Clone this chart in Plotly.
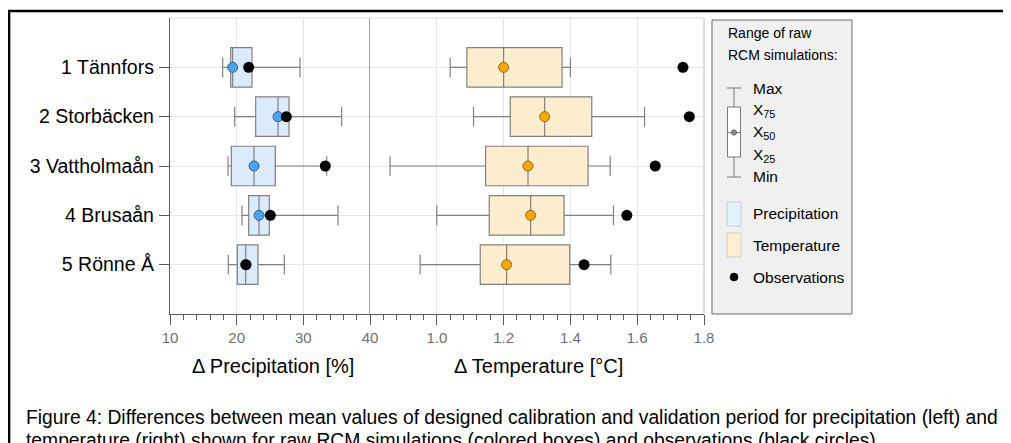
import plotly.graph_objects as go

# ---------------- data ----------------
stations = ["1 Tännfors", "2 Storbäcken", "3 Vattholmaån", "4 Brusaån", "5 Rönne Å"]
positions = [1, 2, 3, 4, 5]

prec_min = [17.9, 19.7, 18.7, 20.8, 18.75]
prec_q1 = [19.1, 22.85, 19.2, 21.8, 20.1]
prec_med = [19.4, 26.2, 22.6, 23.35, 21.35]
prec_q3 = [22.3, 27.85, 25.8, 24.9, 23.2]
prec_max = [29.5, 35.75, 33.5, 35.2, 27.15]
prec_obs = [21.8, 27.45, 33.3, 25.05, 21.4]

temp_min = [1.04, 1.11, 0.86, 1.00, 0.95]
temp_q1 = [1.09, 1.22, 1.146, 1.157, 1.13]
temp_med = [1.20, 1.323, 1.273, 1.281, 1.209]
temp_q3 = [1.375, 1.464, 1.453, 1.381, 1.398]
temp_max = [1.40, 1.622, 1.519, 1.529, 1.521]
temp_obs = [1.737, 1.756, 1.654, 1.569, 1.441]

prec_ticks = [10, 20, 30, 40]
temp_ticks = [1.0, 1.2, 1.4, 1.6, 1.8]

caption1 = ("Figure 4: Differences between mean values of designed calibration and "
            "validation period for precipitation (left) and")
caption2 = ("temperature (right) shown for raw RCM simulations (colored boxes) and "
            "observations (black circles).")

FONT = "Liberation Sans, Arial, sans-serif"
W, H = 1011, 443
OFF = 8                      # page body margin offset
L, R, T, B = 162, 696, 10, 306   # plot area in figure pixels


def px(x):   # x given in screenshot pixels
    return (x - OFF - L) / (R - L)


def py(y):   # y given in screenshot pixels
    return (B - (y - OFF)) / (B - T)


split = px(370)

fig = go.Figure()

# ---------------- boxes ----------------
fig.add_trace(go.Box(
    y=positions, q1=prec_q1, median=prec_med, q3=prec_q3,
    lowerfence=prec_min, upperfence=prec_max, orientation="h",
    fillcolor="#dcebfb", line=dict(color="#808080", width=1.2),
    whiskerwidth=0.5, width=0.8, boxpoints=False, hoverinfo="skip",
    xaxis="x", yaxis="y", showlegend=False))

fig.add_trace(go.Box(
    y=positions, q1=temp_q1, median=temp_med, q3=temp_q3,
    lowerfence=temp_min, upperfence=temp_max, orientation="h",
    fillcolor="#fdedcf", line=dict(color="#808080", width=1.2),
    whiskerwidth=0.5, width=0.8, boxpoints=False, hoverinfo="skip",
    xaxis="x2", yaxis="y", showlegend=False))

# median dots
fig.add_trace(go.Scatter(
    x=prec_med, y=positions, mode="markers", xaxis="x", yaxis="y",
    marker=dict(size=10, color="#4aa3f2", line=dict(color="#3c5f80", width=1)),
    showlegend=False, hoverinfo="skip"))
fig.add_trace(go.Scatter(
    x=temp_med, y=positions, mode="markers", xaxis="x2", yaxis="y",
    marker=dict(size=10, color="#ffa500", line=dict(color="#8a6a20", width=1)),
    showlegend=False, hoverinfo="skip"))

# observations
fig.add_trace(go.Scatter(
    x=prec_obs, y=positions, mode="markers", xaxis="x", yaxis="y",
    marker=dict(size=11, color="black"), showlegend=False, hoverinfo="skip"))
fig.add_trace(go.Scatter(
    x=temp_obs, y=positions, mode="markers", xaxis="x2", yaxis="y",
    marker=dict(size=11, color="black"), showlegend=False, hoverinfo="skip"))

axis_common = dict(
    showline=True, linecolor="#5a5a5a", linewidth=1.3,
    ticks="outside", ticklen=10, tickcolor="#5a5a5a", tickwidth=1.3,
    showgrid=True, gridcolor="#e6e6e6", gridwidth=1,
    zeroline=False, automargin=False,
    tickfont=dict(family=FONT, size=15, color="#707070"),
)

fig.update_layout(
    width=W, height=H,
    margin=dict(l=L, r=W - R, t=T, b=H - B, pad=0),
    paper_bgcolor="white", plot_bgcolor="white",
    font=dict(family=FONT, color="black"),
    xaxis=dict(domain=[0, split], range=[10, 40], tickmode="array",
               tickvals=prec_ticks, anchor="y",
               minor=dict(ticks="outside", ticklen=5, dtick=2, tick0=10,
                          tickcolor="#5a5a5a", tickwidth=1.2, showgrid=False),
               **axis_common),
    xaxis2=dict(domain=[split, 1], range=[0.8, 1.8], tickmode="array",
                tickvals=temp_ticks, tickformat=".1f", anchor="y",
                minor=dict(ticks="outside", ticklen=5, dtick=0.04, tick0=0.8,
                           tickcolor="#5a5a5a", tickwidth=1.2, showgrid=False),
                **axis_common),
    yaxis=dict(domain=[0, 1], range=[6, 0], tickmode="array",
               tickvals=positions, ticktext=stations, anchor="x",
               showline=True, linecolor="#5a5a5a", linewidth=1.3,
               ticks="outside", ticklen=10, tickcolor="#5a5a5a", tickwidth=1.3,
               showgrid=True, gridcolor="#e8e8e8", zeroline=False,
               automargin=False, ticklabelstandoff=1,
               tickfont=dict(family=FONT, size=19.5, color="black")),
)

shapes = []
# panel separator at 40 %
shapes.append(dict(type="line", xref="x", yref="paper", x0=40, x1=40, y0=0, y1=1,
                   line=dict(color="#7a7a7a", width=1.3), layer="above"))
# top and right frame of plot area
shapes.append(dict(type="line", xref="paper", yref="paper", x0=0, x1=1, y0=1, y1=1,
                   line=dict(color="#dcdcdc", width=1.2)))
shapes.append(dict(type="line", xref="paper", yref="paper", x0=1, x1=1, y0=0, y1=1,
                   line=dict(color="#c8c8c8", width=1.2)))
# outer black frame
shapes.append(dict(type="rect", xref="paper", yref="paper",
                   x0=px(9), x1=px(1040), y0=py(11), y1=py(480),
                   line=dict(color="black", width=2.6), fillcolor="rgba(0,0,0,0)"))

# legend box
shapes.append(dict(type="rect", xref="paper", yref="paper",
                   x0=px(712), x1=px(852), y0=py(20), y1=py(314),
                   line=dict(color="#6a6a6a", width=1), fillcolor="#f0f0f0"))
g = "#7a7a7a"
cx = 734
shapes += [
    dict(type="line", xref="paper", yref="paper", x0=px(cx), x1=px(cx), y0=py(88), y1=py(107), line=dict(color=g, width=1)),
    dict(type="line", xref="paper", yref="paper", x0=px(cx), x1=px(cx), y0=py(157), y1=py(177), line=dict(color=g, width=1)),
    dict(type="line", xref="paper", yref="paper", x0=px(727), x1=px(741), y0=py(88), y1=py(88), line=dict(color=g, width=1)),
    dict(type="line", xref="paper", yref="paper", x0=px(727), x1=px(741), y0=py(177), y1=py(177), line=dict(color=g, width=1)),
    dict(type="rect", xref="paper", yref="paper", x0=px(727.5), x1=px(740.5), y0=py(107), y1=py(157),
         line=dict(color=g, width=1), fillcolor="white"),
    dict(type="line", xref="paper", yref="paper", x0=px(727.5), x1=px(740.5), y0=py(132.5), y1=py(132.5), line=dict(color=g, width=1)),
    dict(type="circle", xref="paper", yref="paper", x0=px(731.3), x1=px(736.7), y0=py(129.8), y1=py(135.2),
         line=dict(color="#6a6a6a", width=0.8), fillcolor="#8a8a8a"),
    dict(type="rect", xref="paper", yref="paper", x0=px(727), x1=px(741), y0=py(202), y1=py(226),
         line=dict(color="#c4cdd2", width=1), fillcolor="#dff4fc"),
    dict(type="rect", xref="paper", yref="paper", x0=px(727), x1=px(741), y0=py(233), y1=py(257),
         line=dict(color="#d6cfc0", width=1), fillcolor="#fdeecf"),
    dict(type="circle", xref="paper", yref="paper", x0=px(730), x1=px(738), y0=py(273), y1=py(281),
         line=dict(color="black", width=0.5), fillcolor="black"),
]
fig.update_layout(shapes=shapes)

ann = []


def text(x, y, s, size=15.5, xanchor="left", color="black"):
    ann.append(dict(xref="paper", yref="paper", x=px(x), y=py(y), text=s,
                    showarrow=False, xanchor=xanchor, yanchor="middle",
                    font=dict(family=FONT, size=size, color=color)))


text(726, 33, "Range of raw", size=14)
text(726, 55, "RCM simulations:", size=14)
text(751, 88, "Max")
text(751, 110, "X<sub>75</sub>")
text(751, 133, "X<sub>50</sub>")
text(751, 155, "X<sub>25</sub>")
text(751, 176, "Min")
text(751, 213, "Precipitation")
text(751, 245, "Temperature")
text(751, 277, "Observations")

# axis titles
text(273, 366, "Δ Precipitation [%]", size=20, xanchor="center")
text(538, 366, "Δ Temperature [°C]", size=20, xanchor="center")

# caption
text(24, 417, caption1, size=19.3)
text(24, 440, caption2, size=19.3)

fig.update_layout(annotations=ann)

fig.write_html("out.html")
